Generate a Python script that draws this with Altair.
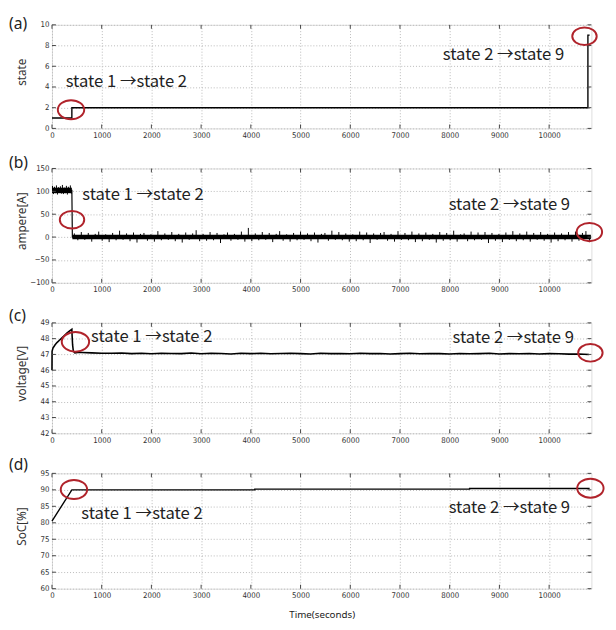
import altair as alt
import pandas as pd

# ---------------- data ----------------
X_MAX = 10850
x_ticks = [0, 1000, 2000, 3000, 4000, 5000, 6000, 7000, 8000, 9000, 10000]

# (a) state
state_t = [0, 400, 400, 10780, 10780, 10815]
state_v = [1, 1, 2, 2, 9, 9]

# (b) ampere: main trace (level) + dense noise band + noise spikes
amp_t = [0, 400, 410, 10840]
amp_v = [102, 102, 0, 0]
amp_band_t = [0, 410]
amp_band_t2 = [400, 10840]
amp_band_lo = [96, -5]
amp_band_hi = [108, 5]
amp_pre_spike_base = 102
amp_pre_spike_start, amp_pre_spike_step = 10, 20
amp_pre_spike = [112, 94, 110, 96, 113, 93, 109, 97, 111, 95,
                 114, 94, 108, 96, 112, 93, 110, 97, 113, 95]
amp_spike_base = 0
amp_spike_start, amp_spike_step = 450, 70
amp_spike = [
    8, -7, 11, -6, 9, -10, 7, 12, -8, 6,
    -11, 9, -7, 14, -6, 8, -9, 10, -12, 7,
    9, -8, 6, -10, 13, -7, 8, -6, 11, -9,
    7, -12, 10, -6, 8, 15, -9, 7, -8, 11,
    -7, 9, -13, 6, 10, -8, 7, -6, 12, -10,
    20, -9, 8, -7, 11, -6, 9, -11, 7, 13,
    -8, 6, -10, 9, -7, 12, -6, 8, -9, 10,
    -12, 7, 9, -8, 14, -6, 11, -7, 8, -10,
    6, -9, 12, -7, 10, -13, 8, -6, 9, 11,
    -8, 7, -10, 13, -6, 9, -7, 12, -11, 8,
    -9, 10, -6, 7, -12, 11, -8, 9, -7, 14,
    -10, 6, 8, -9, 12, -7, 10, -6, 11, -13,
    9, -8, 7, -11, 10, -6, 13, -9, 8, -7,
    12, -10, 9, -6, 11, -8, 7, -12, 10, -9,
    8, -7, 11, -10, 12, -8, 9, 13, -11,
]

# (c) voltage
volt_rise_t = [0, 2, 20, 60, 100, 150, 200, 250, 300, 350, 400, 405, 415, 430, 460, 520]
volt_rise = [46.0, 47.2, 47.4, 47.6, 47.75, 47.9, 48.05, 48.2, 48.35, 48.48, 48.6, 48.2, 47.6, 47.2, 47.1, 47.12]
volt_flat = [
    47.12, 47.10, 47.08, 47.07, 47.09, 47.05, 47.07, 47.04, 47.08, 47.06,
    47.05, 47.09, 47.04, 47.07, 47.06, 47.03, 47.08, 47.05, 47.07, 47.04,
    47.06, 47.08, 47.05, 47.03, 47.07, 47.05, 47.06, 47.04, 47.08, 47.05,
    47.06, 47.03, 47.05, 47.07, 47.04, 47.06, 47.05, 47.03, 47.06, 47.04,
    47.05, 47.07, 47.03, 47.05, 47.04, 47.06, 47.03, 47.05, 47.04, 47.02,
    47.03, 47.00,
]
volt_flat_start, volt_flat_step = 600, 200

# (d) SoC
soc_t = [0, 400, 4080, 4080, 8400, 8400, 10815]
soc_v = [80.5, 90.0, 90.0, 90.2, 90.2, 90.4, 90.4]

# annotations: (x, y)
ann_text = ["state 1 →state 2", "state 2 →state 9"]
ann_a = [(275, 4.5), (7862, 7.1)]
ann_b = [(609, 92), (7980, 69)]
ann_c = [(786, 48.07), (8058, 48.05)]
ann_d = [(590, 82.5), (7980, 84.5)]

# red ellipses (x, y, width px)
ell_a = [(383, 1.8, 27), (10711, 8.9, 25)]
ell_b = [(403, 38, 25), (10810, 11, 26)]
ell_c = [(472, 47.8, 28), (10830, 47.1, 25)]
ell_d = [(442, 90.1, 27), (10830, 90.5, 27)]

W = 552
TICK_FONT = "Liberation Sans Narrow, DejaVu Sans Condensed, Arial Narrow, sans-serif"
TXT_FONT = "Noto Sans"
ANN_FONT = "Noto Sans CJK KR"
ELLIPSE = ("M -1 0 C -1 -0.398 -0.552 -0.72 0 -0.72 C 0.552 -0.72 1 -0.398 1 0 "
           "C 1 0.398 0.552 0.72 0 0.72 C -0.552 0.72 -1 0.398 -1 0 Z")


def panel(line_df, ydom, yticks, ytitle, h, label, label_y, anns, ells, order=False,
          xtitle=None, line_w=1.4, band_df=None, spike_df=None):
    x_enc = alt.X(
        "t:Q",
        scale=alt.Scale(domain=[0, X_MAX], nice=False, zero=False),
        axis=alt.Axis(
            values=x_ticks, format="d", grid=True, gridDash=[1, 2], gridColor="#b8b8b8",
            ticks=False, domain=False, labelFont=TICK_FONT, labelFontSize=8,
            labelColor="#333", labelPadding=3, labelFlush=False,
            title=xtitle, titleFont=TXT_FONT, titleFontSize=10, titleFontWeight="normal",
            titleColor="#222", titlePadding=10,
        ),
    )
    y_enc = alt.Y(
        "y:Q",
        scale=alt.Scale(domain=ydom, nice=False, zero=False),
        axis=alt.Axis(
            values=yticks, grid=True, gridDash=[1, 2], gridColor="#b8b8b8",
            ticks=False, domain=False, labelFont=TICK_FONT, labelFontSize=8,
            labelColor="#333", labelPadding=3, labelFlush=False,
            title=ytitle, titleFont=TXT_FONT, titleFontSize=12, titleFontWeight="normal",
            titleColor="#333", titleX=-31, titleY=h / 2 - 5, titleBaseline="middle",
            titleAngle=-90,
        ),
    )
    layers = []
    if band_df is not None:
        layers.append(
            alt.Chart(band_df).mark_rect(color="black").encode(
                x=x_enc, x2="t2:Q", y=y_enc, y2="y2:Q"
            )
        )
    if spike_df is not None:
        layers.append(
            alt.Chart(spike_df).mark_rule(color="black", strokeWidth=1).encode(
                x=x_enc, y=y_enc, y2="y2:Q"
            )
        )
    enc = dict(x=x_enc, y=y_enc)
    if order:
        enc["order"] = alt.Order("i:Q")
    layers.append(alt.Chart(line_df).mark_line(color="black", strokeWidth=line_w).encode(**enc))

    xt = pd.DataFrame({"t": x_ticks})
    yt = pd.DataFrame({"y": yticks})
    tick_style = dict(color="#444", strokeWidth=1)
    layers += [
        alt.Chart(xt).mark_rule(**tick_style).encode(x=x_enc, y=alt.value(h - 4), y2=alt.value(h)),
        alt.Chart(xt).mark_rule(**tick_style).encode(x=x_enc, y=alt.value(0), y2=alt.value(4)),
        alt.Chart(yt).mark_rule(**tick_style).encode(y=y_enc, x=alt.value(0), x2=alt.value(4)),
        alt.Chart(yt).mark_rule(**tick_style).encode(y=y_enc, x=alt.value(W - 4), x2=alt.value(W)),
    ]

    edf = pd.DataFrame({"t": [e[0] for e in ells], "y": [e[1] for e in ells],
                        "s": [e[2] ** 2 for e in ells]})
    layers.append(alt.Chart(edf).mark_point(
        shape=ELLIPSE, filled=False, color="#b0232b", strokeWidth=2, opacity=1
    ).encode(x=x_enc, y=y_enc, size=alt.Size("s:Q", scale=None)))

    adf = pd.DataFrame({"t": [a[0] for a in anns], "y": [a[1] for a in anns], "txt": ann_text})
    layers.append(alt.Chart(adf).mark_text(
        align="left", baseline="middle", fontSize=17, font=ANN_FONT, color="#222"
    ).encode(x=x_enc, y=y_enc, text="txt:N"))

    ldf = pd.DataFrame({"lbl": [label]})
    layers.append(alt.Chart(ldf).mark_text(
        align="left", baseline="middle", fontSize=16, font=TXT_FONT, color="#222"
    ).encode(x=alt.value(-44), y=alt.value(label_y), text="lbl:N"))

    return alt.layer(*layers).properties(width=W, height=h)


df_a = pd.DataFrame({"t": state_t, "y": state_v, "i": list(range(len(state_t)))})

df_b = pd.DataFrame({"t": amp_t, "y": amp_v, "i": list(range(len(amp_t)))})
band_b = pd.DataFrame({"t": amp_band_t, "t2": amp_band_t2, "y": amp_band_lo, "y2": amp_band_hi})
pre_t = [amp_pre_spike_start + amp_pre_spike_step * k for k in range(len(amp_pre_spike))]
post_t = [amp_spike_start + amp_spike_step * k for k in range(len(amp_spike))]
spikes_b = pd.DataFrame({
    "t": pre_t + post_t,
    "y": amp_pre_spike + amp_spike,
    "y2": [amp_pre_spike_base] * len(pre_t) + [amp_spike_base] * len(post_t),
})

volt_flat_t = [volt_flat_start + volt_flat_step * k for k in range(len(volt_flat))]
df_c = pd.DataFrame({"t": volt_rise_t + volt_flat_t, "y": volt_rise + volt_flat,
                     "i": list(range(len(volt_rise_t) + len(volt_flat_t)))})
df_d = pd.DataFrame({"t": soc_t, "y": soc_v, "i": list(range(len(soc_t)))})

pa = panel(df_a, [0, 10], [0, 2, 4, 6, 8, 10], "state", 106, "(a)", -1, ann_a, ell_a, order=True)
pb = panel(df_b, [-100, 150], [-100, -50, 0, 50, 100, 150], "ampere[A]", 117, "(b)", -6,
           ann_b, ell_b, order=True, line_w=1.2, band_df=band_b, spike_df=spikes_b)
pc = panel(df_c, [42, 49], [42, 43, 44, 45, 46, 47, 48, 49], "voltage[V]", 113, "(c)", -7,
           ann_c, ell_c, order=True, line_w=1.6)
pd_ = panel(df_d, [60, 95], [60, 65, 70, 75, 80, 85, 90, 95], "SoC[%]", 118, "(d)", -8,
            ann_d, ell_d, order=True, xtitle="Time(seconds)")

chart = alt.vconcat(pa, pb, pc, pd_, spacing=41, bounds="flush").properties(
    padding=0
).configure_view(
    stroke="#666", strokeWidth=1
).configure(background="white")

chart.save("out.html", embed_options={"renderer": "svg", "actions": False})
